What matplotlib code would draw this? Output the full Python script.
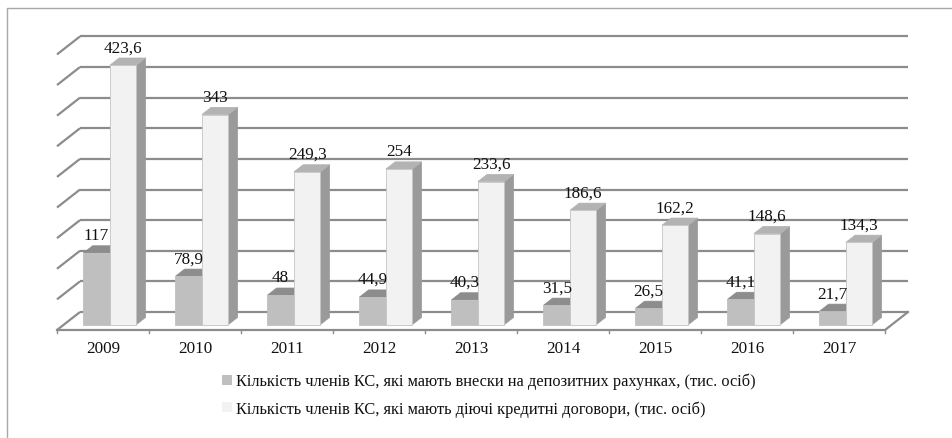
import matplotlib.pyplot as plt
from matplotlib.patches import Polygon, Patch
from matplotlib.lines import Line2D

# data
years = ['2009', '2010', '2011', '2012', '2013', '2014', '2015', '2016', '2017']
deposits = [117, 78.9, 48, 44.9, 40.3, 31.5, 26.5, 41.1, 21.7]
credits = [423.6, 343, 249.3, 254, 233.6, 186.6, 162.2, 148.6, 134.3]
series_names = ['Кількість членів КС, які мають внески на депозитних рахунках, (тис. осіб)',
                'Кількість членів КС, які мають діючі кредитні договори, (тис. осіб)']
y_max = 450
y_step = 50

plt.rcParams['font.family'] = ['Liberation Serif', 'DejaVu Serif']

W, H = 952, 439
px_x = 92.0      # pixels per category
px_y = 0.6124    # pixels per unit of value
x0_px, y0_px = 57, 331   # front-left corner of the floor

fig = plt.figure(figsize=(W / 100, H / 100), dpi=100)
ax = fig.add_axes([0, 0, 1, 1])
ax.set_xlim(-x0_px / px_x, (W - x0_px) / px_x)
ax.set_ylim((y0_px - H) / px_y, y0_px / px_y)
ax.axis('off')

# depth of the 3d floor, in data units
dx, dy = 23 / px_x, 18 / px_y
n = len(years)


def proj(x, v, d):
    return (x + d * dx, v + d * dy)


grid_c = '#8c8c8c'
# back wall + side wall gridlines
for v in range(0, y_max + 1, y_step):
    a, b = proj(0, v, 1), proj(n, v, 1)
    ax.plot([a[0], b[0]], [a[1], b[1]], color=grid_c, lw=1.6, solid_capstyle='butt', zorder=1)
    c = proj(0, v, 0)
    ax.plot([c[0], a[0]], [c[1], a[1]], color=grid_c, lw=1.6, solid_capstyle='butt', zorder=1)

# floor front edge and right edge
f0, f1, f2 = proj(0, 0, 0), proj(n, 0, 0), proj(n, 0, 1)
ax.plot([f0[0], f1[0], f2[0]], [f0[1], f1[1], f2[1]], color=grid_c, lw=1.6, zorder=1)
# tick marks
for i in range(n + 1):
    p = proj(i, 0, 0)
    ax.plot([p[0], p[0]], [p[1], p[1] - 5], color=grid_c, lw=1, zorder=1)

bw = 26.5 / px_x
d0, d1 = 0.3, 0.7


def bar3d(x0, v, front, top, side, edge):
    x1 = x0 + bw
    sidep = [proj(x1, 0, d0), proj(x1, 0, d1), proj(x1, v, d1), proj(x1, v, d0)]
    topp = [proj(x0, v, d0), proj(x1, v, d0), proj(x1, v, d1), proj(x0, v, d1)]
    frontp = [proj(x0, 0, d0), proj(x1, 0, d0), proj(x1, v, d0), proj(x0, v, d0)]
    ax.add_patch(Polygon(sidep, closed=True, facecolor=side, edgecolor=side, lw=0.5, zorder=3))
    ax.add_patch(Polygon(topp, closed=True, facecolor=top, edgecolor=top, lw=0.5, zorder=3))
    ax.add_patch(Polygon(frontp, closed=True, facecolor=front, edgecolor=edge, lw=0.6, zorder=3))


def fmt(v):
    return f'{v:g}'.replace('.', ',')


for i in range(n):
    xg = i + 0.5 - bw
    xw = i + 0.5
    bar3d(xg, deposits[i], '#bfbfbf', '#8d8d8d', '#a5a5a5', '#bfbfbf')
    bar3d(xw, credits[i], '#f2f2f2', '#b3b3b3', '#9a9a9a', '#c4c4c4')
    for xb, v in ((xg, deposits[i]), (xw, credits[i])):
        px, py = proj(xb + bw / 2, v, d0)
        ax.text(px, py + 18 / px_y, fmt(v), ha='center', va='center', fontsize=12.3,
                color='#111111', zorder=5)
    ax.text(i + 0.5, (y0_px - 349) / px_y, years[i], ha='center', va='center',
            fontsize=12.3, color='#111111')

# outer frame (top and left edges)
fig.add_artist(Line2D([7 / W, 7 / W, 1], [0, 1 - 9 / H, 1 - 9 / H],
                      transform=fig.transFigure, color='#a8a8a8', lw=1))

handles = [Patch(facecolor='#bfbfbf', edgecolor='none'),
           Patch(facecolor='#f2f2f2', edgecolor='none')]
fig.legend(handles, series_names, loc='upper left', bbox_to_anchor=(222 / W, 1 - 374 / H),
           frameon=False, fontsize=11.8, handlelength=0.6, handleheight=0.6,
           handletextpad=0.25, labelspacing=0.65, borderpad=0, borderaxespad=0,
           labelcolor='#111111')

plt.savefig('out.png', dpi=100)
